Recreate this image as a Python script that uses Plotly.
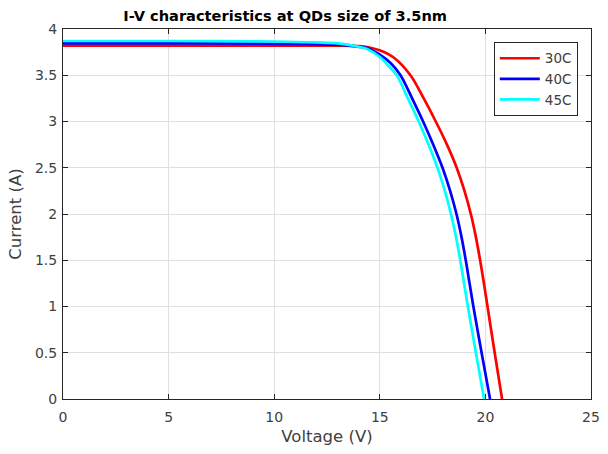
import plotly.graph_objects as go

# I-V curves (voltage in V, current in A) for each temperature
v_30c = [0, 5, 10, 12, 13, 13.97, 14.4, 15.02, 15.70, 16.45, 17.08, 17.65, 18.18, 18.64, 19.01, 19.31, 19.55, 19.75, 19.93, 20.10, 20.44, 20.79]
i_30c = [3.82, 3.82, 3.82, 3.82, 3.82, 3.815, 3.805, 3.767, 3.684, 3.5, 3.25, 3.0, 2.75, 2.5, 2.25, 2.0, 1.75, 1.5, 1.25, 1.0, 0.5, 0]

v_40c = [0, 5, 10, 12, 13, 13.97, 14.4, 15.02, 15.52, 15.98, 16.53, 17.05, 17.53, 17.97, 18.33, 18.63, 18.87, 19.07, 19.25, 19.43, 19.82, 20.22]
i_40c = [3.845, 3.845, 3.84, 3.835, 3.83, 3.81, 3.795, 3.72, 3.63, 3.5, 3.25, 3.0, 2.75, 2.5, 2.25, 2.0, 1.75, 1.5, 1.25, 1.0, 0.5, 0]

v_45c = [0, 5, 10, 12, 13, 13.97, 14.4, 15.02, 15.44, 15.80, 16.33, 16.84, 17.31, 17.73, 18.08, 18.37, 18.61, 18.81, 18.99, 19.17, 19.55, 19.94]
i_45c = [3.87, 3.87, 3.865, 3.855, 3.845, 3.81, 3.785, 3.695, 3.594, 3.5, 3.25, 3.0, 2.75, 2.5, 2.25, 2.0, 1.75, 1.5, 1.25, 1.0, 0.5, 0]

series = [
    ("30C", v_30c, i_30c, "#ff0000"),
    ("40C", v_40c, i_40c, "#0000ff"),
    ("45C", v_45c, i_45c, "#00ffff"),
]

x_ticks = [0, 5, 10, 15, 20, 25]
y_ticks = [0, 0.5, 1, 1.5, 2, 2.5, 3, 3.5, 4]
y_tick_text = ["0", "0.5", "1", "1.5", "2", "2.5", "3", "3.5", "4"]

FONT = "DejaVu Sans, Verdana, sans-serif"
AXIS_COLOR = "#262626"
TEXT_COLOR = "#404040"

fig = go.Figure()
for name, v, i, color in series:
    fig.add_trace(go.Scatter(
        x=v, y=i, name=name, mode="lines",
        line=dict(color=color, width=2.7, shape="spline", smoothing=1.0),
    ))

axis_common = dict(
    showline=True, linecolor=AXIS_COLOR, linewidth=1, mirror="ticks",
    ticks="inside", ticklen=5, tickcolor=AXIS_COLOR,
    showgrid=True, gridcolor="#e0e0e0", gridwidth=1,
    zeroline=False, tickfont=dict(family=FONT, size=14, color=TEXT_COLOR),
    ticklabeloverflow="allow",
)

fig.update_layout(
    width=608, height=454,
    margin=dict(l=63, r=8, t=29, b=55),
    paper_bgcolor="white", plot_bgcolor="white",
    title=dict(
        text="<b>I-V characteristics at QDs size of 3.5nm</b>",
        font=dict(family=FONT, size=14.6, color="#000000"),
        xref="container", x=0.469, xanchor="center",
        yref="container", y=0.966, yanchor="middle",
    ),
    xaxis=dict(
        range=[0, 25], tickvals=x_ticks, ticklabelstandoff=5,
        title=dict(text="Voltage (V)", font=dict(family=FONT, size=16.5, color=TEXT_COLOR), standoff=6),
        **axis_common,
    ),
    yaxis=dict(
        range=[0, 4], tickvals=y_ticks, ticktext=y_tick_text, ticklabelstandoff=2,
        title=dict(text="Current (A)", font=dict(family=FONT, size=16.5, color=TEXT_COLOR), standoff=9),
        **axis_common,
    ),
    legend=dict(
        x=0.975, xanchor="right", y=0.965, yanchor="top",
        bgcolor="white", bordercolor=AXIS_COLOR, borderwidth=1,
        font=dict(family=FONT, size=13.5, color=TEXT_COLOR),
        itemwidth=40, tracegroupgap=0,
    ),
    showlegend=True,
)

fig.write_html("out.html")
